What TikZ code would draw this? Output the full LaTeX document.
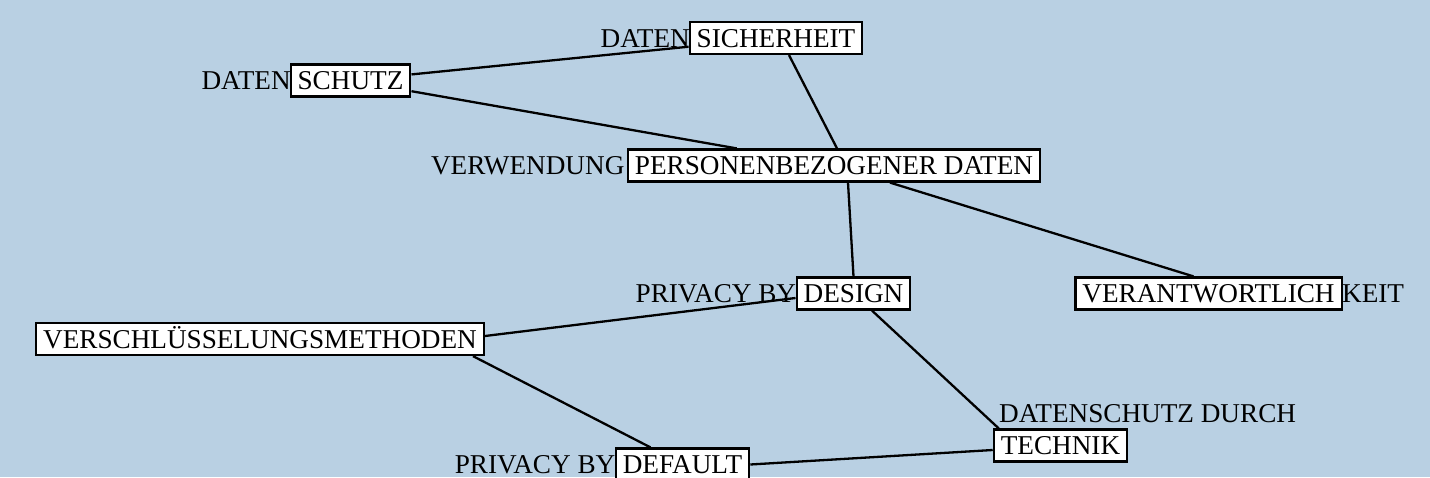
\documentclass[tikz,border=0pt]{standalone}
\usepackage{fontspec}
\setmainfont{Liberation Serif}
\usepackage{tikz}
\definecolor{bgblue}{RGB}{185,208,227}
\tikzset{
  termbox/.style={draw=black, line width=1.1pt, fill=white, inner xsep=3.5pt, inner ysep=0pt,
    text height=12.5pt, text depth=3.5pt, font=\fontsize{13.6}{16}\selectfont},
  termpre/.style={inner sep=0pt, font=\fontsize{13.6}{16}\selectfont},
  link/.style={line width=1.15pt}
}
\begin{document}
\begin{tikzpicture}[x=0.5pt, y=-0.5pt]
\useasboundingbox (0,0) rectangle (1430,477);
\fill[bgblue] (0,0) rectangle (1430,477);
\node[termbox] (schutz) at (350.5,80.5) {SCHUTZ};
\node[termbox] (sicher) at (776,38) {SICHERHEIT};
\node[termbox] (pers) at (834,165.5) {PERSONENBEZOGENER DATEN};
\node[termbox] (design) at (853.5,293.5) {DESIGN};
\node[termbox] (verant) at (1208.5,293.5) {VERANTWORTLICH};
\node[termbox] (verschl) at (260,339) {VERSCHLÜSSELUNGSMETHODEN};
\node[termbox] (default) at (682.5,464.5) {DEFAULT};
\node[termbox] (technik) at (1060.5,445.5) {TECHNIK};
\node[termpre, anchor=base east] (schutzpre) at ([xshift=0.8pt]schutz.base west) {DATEN};
\node[termpre, anchor=base east] (sicherpre) at ([xshift=0.8pt]sicher.base west) {DATEN};
\node[termpre, anchor=base east] (perspre) at ([xshift=-1pt]pers.base west) {VERWENDUNG};
\node[termpre, anchor=base east] (designpre) at ([xshift=0.5pt]design.base west) {PRIVACY BY};
\node[termpre, anchor=base west] (verantpost) at ([xshift=-0.5pt]verant.base east) {KEIT};
\node[termpre, anchor=base east] (defaultpre) at ([xshift=0.5pt]default.base west) {PRIVACY BY};
\node[termpre, anchor=base west] (technikpre) at ([xshift=3pt,yshift=3pt]technik.north west) {DATENSCHUTZ DURCH};
\draw[link] (schutz) -- (sicher);
\draw[link] (schutz) -- (pers);
\draw[link] ([xshift=6.5pt]sicher.south) -- ([xshift=1.5pt]pers.north);
\draw[link] ([xshift=7pt]pers.south) -- (design.north);
\draw[link] ([xshift=28pt]pers.south) -- ([xshift=-7.5pt]verant.north);
\draw[link] ([yshift=1.5pt]verschl.east) -- ([yshift=-2.25pt]design.west);
\draw[link] ([xshift=-6pt]verschl.south east) -- ([xshift=-16pt]default.north);
\draw[link] ([xshift=9.25pt]design.south) -- ([xshift=3pt]technik.north west);
\draw[link] (default.east) -- ([yshift=-2.25pt]technik.west);
\end{tikzpicture}
\end{document}
